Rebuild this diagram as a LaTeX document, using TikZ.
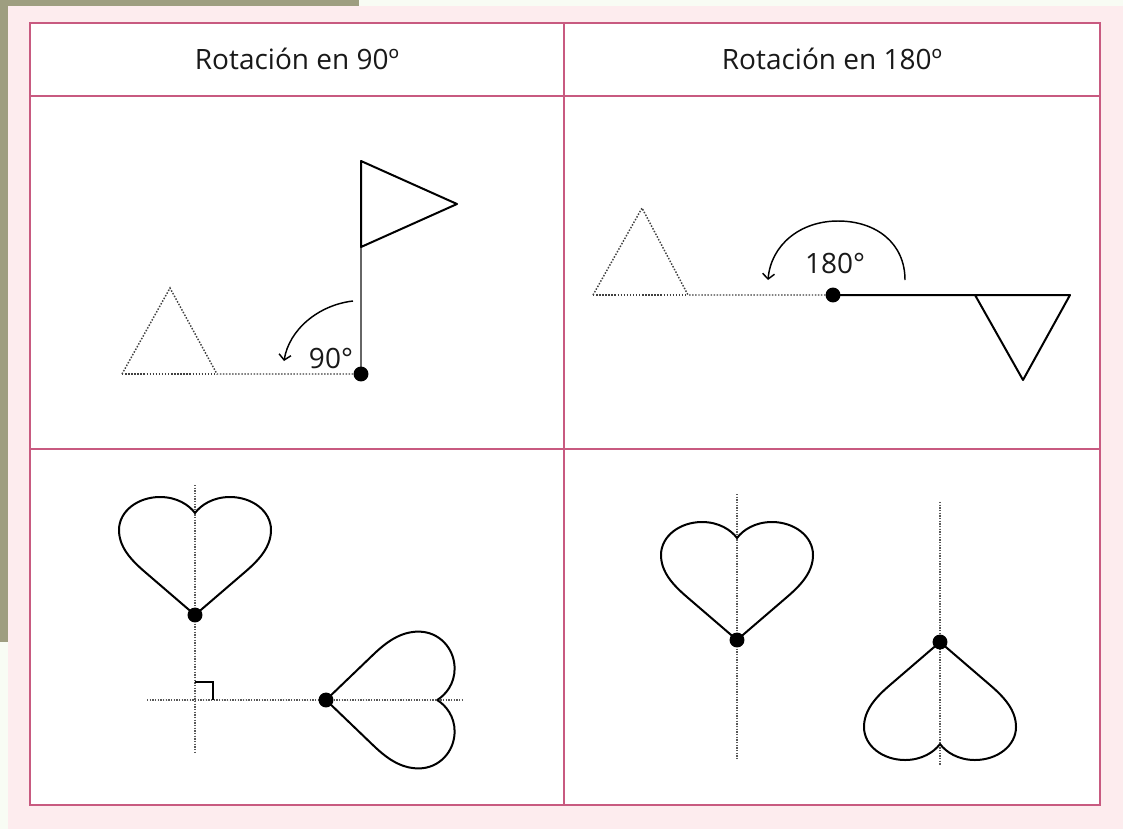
\documentclass[tikz,border=0pt]{standalone}
\usepackage{fontspec}
\setmainfont{Open Sans}
\usetikzlibrary{arrows.meta}
\definecolor{oliv}{HTML}{9E9E80}
\definecolor{rosahg}{HTML}{FDECEE}
\definecolor{gruenweiss}{HTML}{F8FCF4}
\definecolor{rosa}{HTML}{C85A80}

\begin{document}
\begin{tikzpicture}[x=0.75pt, y=-0.75pt,
	rahmen/.style={draw=rosa, line width=1.8pt},
	figur/.style={line width=1.5pt, line join=round},
	spur/.style={line width=1.1pt, black!75, dash pattern=on 1.1pt off 1.2pt},
	achse/.style={line width=1pt, black!65, dash pattern=on 1pt off 1pt},
	pfeil/.style={line width=1.1pt, -{Straight Barb[length=4pt,width=9pt]}},
	titel/.style={font=\fontsize{21}{25}\selectfont, text=black!90},
	herz/.pic={\draw[figur] (0,0) -- (-50,-43) .. controls (-64,-55) and (-76,-68) .. (-76,-85)
		.. controls (-76,-104) and (-57,-118) .. (-35,-118) .. controls (-18,-118) and (-6,-110) .. (0,-102)
		.. controls (6,-110) and (18,-118) .. (35,-118) .. controls (57,-118) and (76,-104) .. (76,-85)
		.. controls (76,-68) and (64,-55) .. (50,-43) -- cycle;}]
	\useasboundingbox (0,0) rectangle (1123,829);
	\fill[gruenweiss] (0,0) rectangle (1123,829); % Hintergrund
	\fill[oliv] (0,0) rectangle (359,6);
	\fill[oliv] (0,0) rectangle (8,642);
	\fill[rosahg] (8,6) rectangle (1123,829);
	
	\fill[white] (30,23) rectangle (1100,805); % Tabelle
	\draw[rahmen] (30,96) -- (1100,96);
	\draw[rahmen] (30,449) -- (1100,449);
	\draw[rahmen] (564,23) -- (564,805);
	\draw[rahmen] (30,23) rectangle (1100,805);
	
	\node[titel] (titel90) at (297,59) {Rotación en 90º};
	\node[titel] (titel180) at (832,59) {Rotación en 180º};
	
	% Rotation 90
	\coordinate (dreh90) at (361,374);
	\draw[spur, line width=1.7pt] (122,374) -- (217,374);
	\draw[spur] (122,374) -- (170,288) -- (217,374) -- (dreh90);
	\draw[black!60, line width=1.4pt] (dreh90) -- (361,247);
	\draw[figur] (361,247) -- (361,161) -- (457,204) -- cycle;
	\draw[pfeil] (353,301) .. controls (318,305) and (289,330) .. (284,361);
	\node[titel] (lbl90) at (331,358) {90°};
	\fill (dreh90) circle[radius=5.6pt];
	
	% Rotation 180
	\coordinate (dreh180) at (833,295);
	\draw[spur, line width=1.7pt] (593,295) -- (688,295);
	\draw[spur] (593,295) -- (642,208) -- (688,295) -- (dreh180);
	\draw[figur] (dreh180) -- (1070,295) -- (1023,380) -- (975,295);
	\draw[pfeil] (905,280) .. controls (905,243) and (876,221) .. (838,221) .. controls (800,221) and (771,245) .. (768,280);
	\node[titel] (lbl180) at (835,263) {180°};
	\fill (dreh180) circle[radius=5.6pt];
	
	% Herzen 90
	\coordinate (herz1) at (195,615);
	\coordinate (herz2) at (326,700);
	\draw[achse] (195,485) -- (195,752);
	\draw[achse] (147,700) -- (462,700);
	\draw[line width=1.1pt] (195,682) -- (213,682) -- (213,700); % rechter Winkel
	\pic at (herz1) {herz};
	\pic[rotate=-90, xscale=0.9, yscale=1.09] at (herz2) {herz};
	\fill (herz1) circle[radius=5.6pt];
	\fill (herz2) circle[radius=5.6pt];
	
	% Herzen 180
	\coordinate (herz3) at (737,640);
	\coordinate (herz4) at (940,642);
	\draw[achse] (737,494) -- (737,760);
	\draw[achse] (940,502) -- (940,765);
	\pic at (herz3) {herz};
	\pic[rotate=180] at (herz4) {herz};
	\fill (herz3) circle[radius=5.6pt];
	\fill (herz4) circle[radius=5.6pt];
\end{tikzpicture}
\end{document}
